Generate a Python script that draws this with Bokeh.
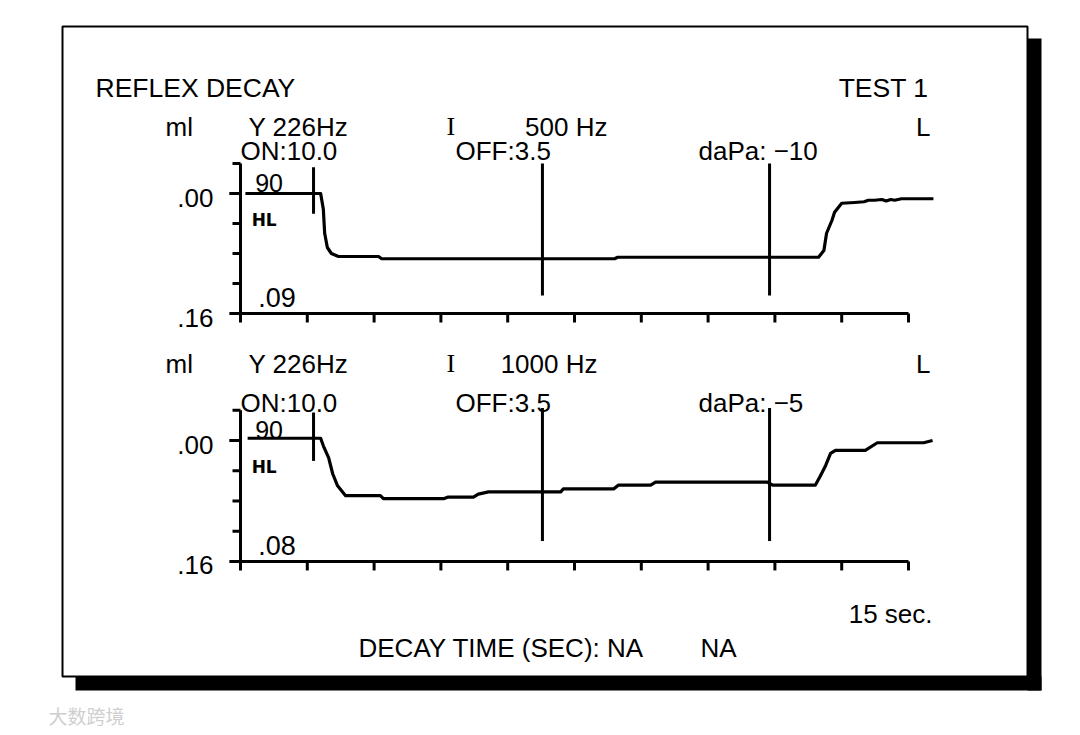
from bokeh.plotting import figure
from bokeh.models import Range1d
from bokeh.core.properties import value
from bokeh.embed import file_html
from bokeh.resources import INLINE

# ---------------- data ----------------
# time axis (seconds) and tick values
x_ticks = [0, 1.5, 3, 4.5, 6, 7.5, 9, 10.5, 12, 13.5, 15]
y_ticks = [-0.04, 0.0, 0.04, 0.08, 0.12, 0.16]
y_tick_labels = {0.0: ".00", 0.16: ".16"}

# top trace: 500 Hz stimulus (ml compliance change, downwards positive)
top_t = [0.11, 1.80, 1.86, 1.89, 1.95, 2.04, 2.20, 3.10, 3.17, 6.78, 8.40, 8.47,
         12.98, 13.10, 13.16, 13.28, 13.34, 13.50, 13.79, 14.00, 14.10, 14.24,
         14.40, 14.50, 14.60, 14.69, 14.84, 15.56]
top_ml = [0.000, 0.000, 0.021, 0.053, 0.072, 0.080, 0.084, 0.084, 0.087, 0.087, 0.087, 0.085,
          0.085, 0.076, 0.053, 0.036, 0.025, 0.013, 0.012, 0.011, 0.009, 0.009,
          0.008, 0.010, 0.008, 0.009, 0.007, 0.007]

# bottom trace: 1000 Hz stimulus
bot_t = [0.16, 1.80, 1.86, 1.98, 2.07, 2.18, 2.36, 3.14, 3.21, 4.56, 4.65, 5.23, 5.34, 5.57,
         7.19, 7.25, 8.38, 8.49, 9.21, 9.32, 11.83, 11.95, 12.91, 13.02, 13.14, 13.25,
         13.36, 14.03, 14.30, 15.34, 15.54]
bot_ml = [-0.003, -0.003, 0.007, 0.023, 0.044, 0.060, 0.073, 0.073, 0.077, 0.077, 0.075, 0.075,
          0.071, 0.068, 0.068, 0.064, 0.064, 0.059, 0.059, 0.055, 0.055, 0.059, 0.059, 0.047,
          0.033, 0.017, 0.013, 0.013, 0.003, 0.003, 0.000]

# stimulus markers (seconds)
on_t = [1.64]
off_t = [6.78, 11.88]
on_extent_top = (-0.035, 0.027)
on_extent_bot = (-0.037, 0.027)
off_extent_top = (-0.04, 0.136)
off_extent_bot = (-0.043, 0.133)

# texts
title_left = "REFLEX DECAY"
title_right = "TEST 1"
unit = "ml"
probe = "Y 226Hz"
ipsi = "I"
stim_freq = ["500 Hz", "1000 Hz"]
ear = "L"
on_txt = "ON:10.0"
off_txt = "OFF:3.5"
dapa = ["daPa: \u221210", "daPa: \u22125"]
level = "90"
hl = "HL"
peak = [".09", ".08"]
sec_txt = "15 sec."
decay_txt = "DECAY TIME (SEC): NA"
decay_txt2 = "NA"
watermark = "\u5927\u6570\u8de8\u5883"

# ---------------- figure ----------------
W, H = 1076, 731
SANS = "Liberation Sans"
SERIF = "Liberation Serif"

p = figure(width=W, height=H, output_backend="svg", toolbar_location=None,
           x_range=Range1d(0, W), y_range=Range1d(H, 0),
           min_border=0, x_axis_location=None, y_axis_location=None,
           outline_line_color=None)
p.xgrid.grid_line_color = None
p.ygrid.grid_line_color = None
p.background_fill_color = "white"
p.border_fill_color = "white"

PX_PER_S = 668 / 15.0
T0 = 240
p.extra_x_ranges = {"t": Range1d((0 - T0) / PX_PER_S, (W - T0) / PX_PER_S)}
p.extra_y_ranges = {
    "top": Range1d((H - 193) / 750.0, (0 - 193) / 750.0),
    "bot": Range1d((H - 440) / 756.0, (0 - 440) / 756.0),
}

# page frame with shadow
p.quad(left=[1027, 75], right=[1041, 1041], top=[38, 676], bottom=[690, 690],
       fill_color="black", line_color=None)
p.quad(left=[62], right=[1027], top=[26], bottom=[676], fill_color="white",
       line_color="black", line_width=2)


def txt(x, y, s, size, align="left", font=SANS, style="normal", color="black"):
    p.text(x=[x], y=[y], text=[s], text_font=value(font), text_font_size=f"{size}px",
           text_align=align, text_baseline="alphabetic", text_color=color,
           text_font_style=style)


txt(95, 87, title_left, 26.5)
txt(928, 87, title_right, 26.5, align="right")


def panel(rng, t, ml, on_ext, off_ext, row2, row3, freq, freq_right, dp, pk, px_per_ml):
    tick_s = 8 / PX_PER_S
    # header rows
    txt(165, row2, unit, 26)
    txt(248, row2, probe, 26)
    txt(446, row2, ipsi, 26, font=SERIF)
    txt(freq_right, row2, freq, 26, align="right")
    txt(930, row2, ear, 26, align="right")
    txt(240, row3, on_txt, 26)
    txt(455, row3, off_txt, 26)
    txt(698, row3, dp, 26)
    # axes
    p.segment(x0=[0], x1=[0], y0=[y_ticks[0]], y1=[y_ticks[-1]], line_width=3,
              line_color="black", x_range_name="t", y_range_name=rng)
    p.segment(x0=[-0.25], x1=[x_ticks[-1]], y0=[y_ticks[-1]], y1=[y_ticks[-1]],
              line_width=3, line_color="black", x_range_name="t", y_range_name=rng)
    p.segment(x0=[-tick_s * (1.4 if v == 0 else 1.0) for v in y_ticks], x1=[0] * len(y_ticks),
              y0=y_ticks, y1=y_ticks, line_width=3, line_color="black",
              x_range_name="t", y_range_name=rng)
    p.segment(x0=x_ticks, x1=x_ticks, y0=[y_ticks[-1]] * len(x_ticks),
              y1=[y_ticks[-1] + 9 / px_per_ml] * len(x_ticks), line_width=3,
              line_color="black", x_range_name="t", y_range_name=rng)
    vals = list(y_tick_labels.keys())
    p.text(x=[0] * len(vals), y=vals, text=[y_tick_labels[v] for v in vals],
           x_offset=-27, y_offset=4, text_align="right", text_baseline="middle",
           text_font=value(SANS), text_font_size="26px", x_range_name="t",
           y_range_name=rng)
    # stimulus markers
    p.segment(x0=on_t, x1=on_t, y0=[on_ext[0]] * len(on_t), y1=[on_ext[1]] * len(on_t),
              line_width=3, line_color="black", x_range_name="t", y_range_name=rng)
    p.segment(x0=off_t, x1=off_t, y0=[off_ext[0]] * len(off_t), y1=[off_ext[1]] * len(off_t),
              line_width=3, line_color="black", x_range_name="t", y_range_name=rng)
    # trace
    p.line(t, ml, line_width=3.2, line_color="black", line_join="round",
           x_range_name="t", y_range_name=rng)
    # inner labels
    p.text(x=[0.33], y=[0.0], text=[level], y_offset=-11, text_baseline="alphabetic",
           text_font=value(SANS), text_font_size="25px", x_range_name="t", y_range_name=rng)
    p.text(x=[0.25], y=[0.0], text=[hl], y_offset=26, text_baseline="alphabetic",
           text_font=value("DejaVu Sans"), text_font_style="bold", text_font_size="17px",
           x_range_name="t", y_range_name=rng)
    p.text(x=[0.4], y=[y_ticks[-1]], text=[pk], y_offset=-16, text_baseline="alphabetic",
           text_font=value(SANS), text_font_size="27px", x_range_name="t", y_range_name=rng)


panel("top", top_t, top_ml, on_extent_top, off_extent_top, 126, 150,
      stim_freq[0], 607, dapa[0], peak[0], 750.0)
panel("bot", bot_t, bot_ml, on_extent_bot, off_extent_bot, 363, 402,
      stim_freq[1], 597, dapa[1], peak[1], 756.0)

txt(932, 613, sec_txt, 26, align="right")
txt(358, 647, decay_txt, 26)
txt(700, 647, decay_txt2, 26)

p.text(x=[48], y=[715], text=[watermark], text_font=value("Noto Sans CJK SC"),
       text_font_size="19px", text_align="left", text_baseline="middle",
       text_color="#cfcfcf")

open("out.html", "w").write(file_html(p, INLINE))
